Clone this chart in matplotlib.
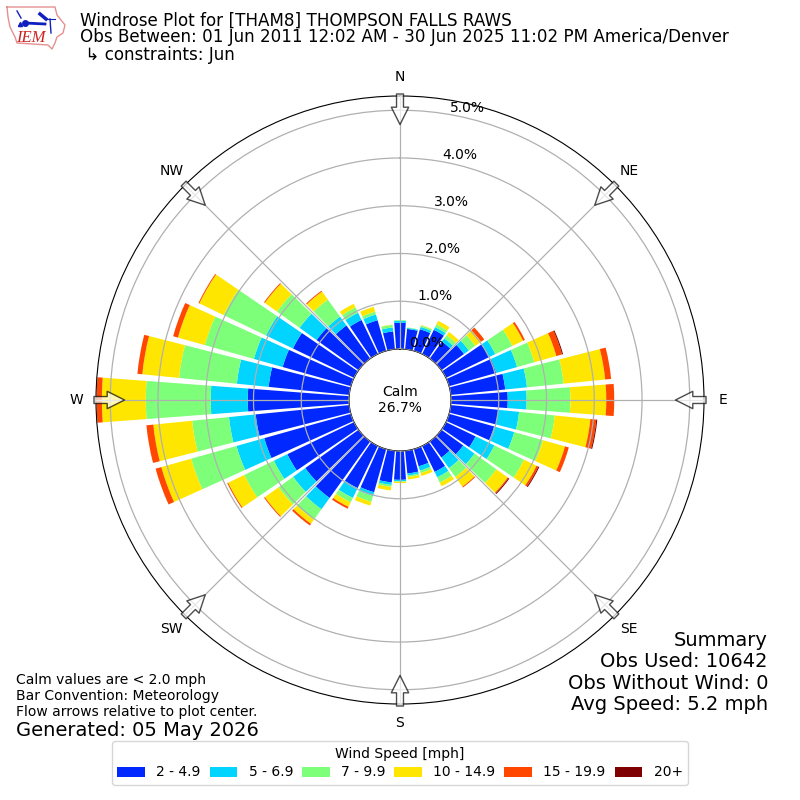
import numpy as np
import matplotlib
matplotlib.use("Agg")
import matplotlib.pyplot as plt
from matplotlib.patches import Patch
from matplotlib.lines import Line2D

directions = list(range(0, 360, 10))
speed_labels = ["2 - 4.9", "5 - 6.9", "7 - 9.9", "10 - 14.9", "15 - 19.9", "20+"]
colors = ["#0028ff", "#00d4ff", "#7dff7a", "#ffe600", "#ff4700", "#7f0000"]

bin_2_5 = [.548,.427,.471,.563,.438,.583,1.000,1.021,1.146,1.188,1.000,.979,.688,.563,.417,.604,.375,.479,
           .604,.667,.938,.979,1.458,1.375,1.550,1.885,1.968,2.120,1.695,1.485,1.420,1.083,.854,.792,.667,.375]
bin_5_7 = [.042,.021,.050,.063,.083,.125,.146,.458,.458,.396,.438,.438,.438,.292,.271,.125,.094,.042,
           .031,.052,.083,.229,.292,.313,.313,.604,.563,.775,.670,.625,.625,.438,.229,.167,.125,.083]
bin_7_10 = [.015,.010,.031,.063,.083,.167,.396,.375,.771,.917,.750,.625,.688,.563,.229,.125,.052,.031,
            .010,.042,.125,.104,.271,.375,.688,.985,.775,1.360,1.215,1.068,.985,.583,.438,.125,.063,.054]
bin_10_15 = [0,0,.010,.083,.083,.146,.250,.479,.875,.750,.750,.479,.292,.292,.250,.083,.063,.052,
             .027,.073,.083,.104,.104,.354,.375,.650,.817,.920,.775,.585,.565,.313,.208,.083,.104,.008]
bin_15_20 = [0,0,0,0,0,.083,.042,.125,.125,.167,.125,.083,.042,.021,.021,0,0,0,
             0,0,0,.042,.042,.021,.021,.125,.146,.110,.104,.104,.021,.021,.021,0,0,0]
bin_20_up = [0,0,0,0,0,0,0,.021,0,0,.021,0,.021,.021,0,0,0,0,
             0,0,0,0,0,0,0,0,0,0,0,0,0,0,0,0,0,0]
bins = [bin_2_5, bin_5_7, bin_7_10, bin_10_15, bin_15_20, bin_20_up]

compass = ["N", "NE", "E", "SE", "S", "SW", "W", "NW"]
compass_deg = list(range(0, 360, 45))
r_ticks = [0, 1, 2, 3, 4, 5]

fig = plt.figure(figsize=(8, 8), dpi=100)
ax = fig.add_axes([0.12, 0.12, 0.76, 0.76], projection="polar")
ax.set_theta_zero_location("N")
ax.set_theta_direction(-1)

theta = np.deg2rad(directions)
width = np.deg2rad(8.6)
bottom = np.zeros(len(directions))
for vals, c in zip(bins, colors):
    ax.bar(theta, vals, width=width, bottom=bottom, color=c, linewidth=0, zorder=2)
    bottom = bottom + np.array(vals)

ax.set_rorigin(-1.068)
ax.set_ylim(0, 5.298)
ax.set_yticks(r_ticks)
ax.set_yticklabels([f"{v:.1f}%" for v in r_ticks], fontsize=10)
ax.set_rlabel_position(10)
ax.set_xticks(np.deg2rad(compass_deg))
ax.set_xticklabels(compass, fontsize=10)
ax.grid(True, color="#b0b0b0", linewidth=0.9, zorder=3)
ax.set_axisbelow(False)

# flow arrows at the rim, pointing to the centre
for d in compass_deg:
    ax.annotate("", xy=(np.deg2rad(d), 4.70), xytext=(np.deg2rad(d), 5.34),
                annotation_clip=False,
                arrowprops=dict(facecolor="white", edgecolor="black", alpha=0.7,
                                width=5, headwidth=12.5, headlength=12.5, shrink=0, linewidth=1),
                zorder=6)

fig.text(0.5, 0.5, "Calm\n26.7%", ha="center", va="center", fontsize=10, zorder=10)

fig.text(0.10, 1 - 20.5 / 800, "Windrose Plot for [THAM8] THOMPSON FALLS RAWS", fontsize=12.04, va="center")
fig.text(0.10, 1 - 37.5 / 800, "Obs Between: 01 Jun 2011 12:02 AM - 30 Jun 2025 11:02 PM America/Denver", fontsize=12.04, va="center")
fig.text(0.10, 1 - 55 / 800, " \u21b3 constraints: Jun", fontsize=12.04, va="center")

for y, s in zip([640, 661.5, 683.5, 705],
                ["Summary", "Obs Used: 10642", "Obs Without Wind: 0", "Avg Speed: 5.2 mph"]):
    fig.text(0.96, 1 - y / 800, s, fontsize=14, ha="right", va="center")
for y, s in zip([680, 696, 712],
                ["Calm values are < 2.0 mph", "Bar Convention: Meteorology", "Flow arrows relative to plot center."]):
    fig.text(0.02, 1 - y / 800, s, fontsize=10, ha="left", va="center")
fig.text(0.02, 1 - 730 / 800, "Generated: 05 May 2026", fontsize=14, ha="left", va="center")

handles = [Patch(facecolor=c, label=l) for c, l in zip(colors, speed_labels)]
fig.legend(handles=handles, title="Wind Speed [mph]", ncol=6, fontsize=10, title_fontsize=10,
           loc="lower center", bbox_to_anchor=(0.5, 0.01), columnspacing=0.65, labelspacing=0.35)

# IEM logo (approximate)
outline_x = [7, 55, 57, 65, 63, 57, 55, 52, 48, 17, 15, 10, 8, 7]
outline_y = [7, 7, 15, 25, 33, 37, 43, 49, 45, 43, 37, 27, 17, 7]
to_fx = lambda xs: [v / 800 for v in xs]
to_fy = lambda ys: [1 - v / 800 for v in ys]
fig.add_artist(Line2D(to_fx(outline_x), to_fy(outline_y), color="#e59090", lw=1))
fig.add_artist(Line2D(to_fx([25, 45]), to_fy([23, 24]), color="#1020c0", lw=2))
fig.add_artist(Line2D(to_fx([25]), to_fy([23]), color="#1020c0", marker="o", ms=4))
fig.add_artist(Line2D(to_fx([20]), to_fy([24]), color="#1020c0", marker="^", ms=3))
fig.add_artist(Line2D(to_fx([40, 46]), to_fy([14, 19]), color="#1020c0", lw=2.5))
fig.add_artist(Line2D(to_fx([45, 55]), to_fy([19, 19]), color="#1020c0", lw=0.8))
fig.add_artist(Line2D(to_fx([17, 21]), to_fy([11, 18]), color="#1020c0", lw=1))
fig.add_artist(Line2D(to_fx([50, 51]), to_fy([19, 33]), color="#1020c0", lw=1))
fig.text(31 / 800, 1 - 38 / 800, "IEM", color="#cc2222", fontsize=12, style="italic",
         family="Liberation Serif", ha="center", va="center")

fig.savefig("out.png", dpi=100)
